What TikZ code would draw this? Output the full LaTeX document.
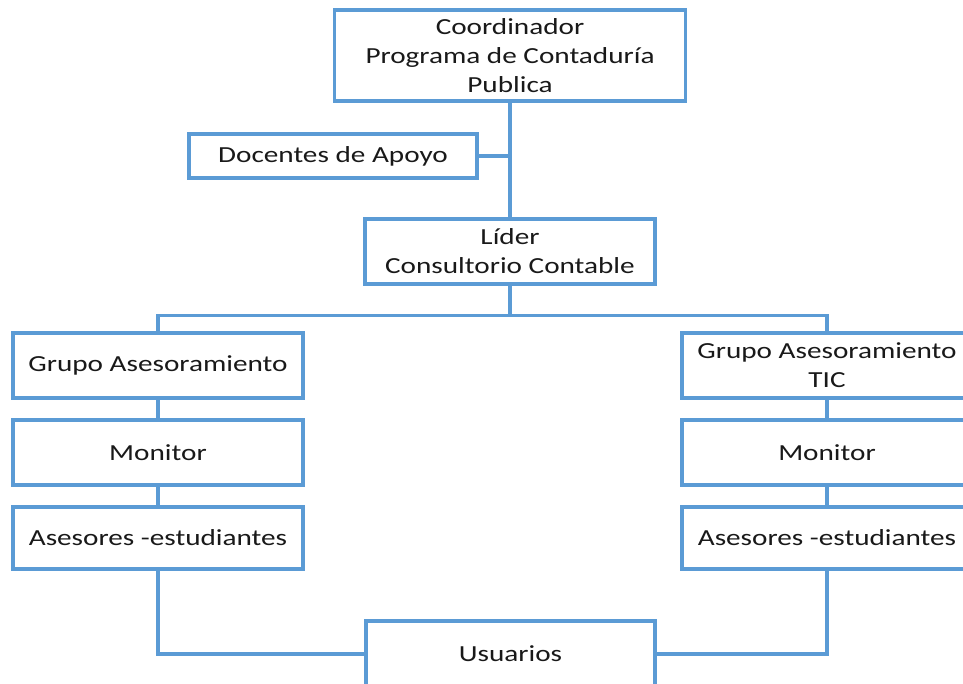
\documentclass[tikz,border=0pt]{standalone}
\usepackage{fontspec}
\setmainfont[FakeStretch=1.27]{Carlito}
\definecolor{orgBlue}{RGB}{91,155,213}
\begin{document}
\begin{tikzpicture}
[x=1pt,y=-1pt,%
  orgLine/.style={-,line width=3.2pt,color=orgBlue},%
  orgBox/.style={shape=rectangle,draw=orgBlue,line width=3.2pt,fill=white,
    inner sep=0pt,align=center,text=black!90,
    font=\fontsize{23}{29}\selectfont}]
\useasboundingbox (0,0) rectangle (963,684);
%% boxes
\foreach \nodename/\x/\y/\w/\h/\txt in {%
  coord/510/55.5/351/91/{Coordinador\\Programa de Contaduría\\Publica},
  docentes/333/156/288/44/{Docentes de Apoyo},
  lider/510/251.5/290/65/{Líder\\Consultorio Contable},
  grupoL/158/365.5/290/65/{Grupo Asesoramiento},
  monL/158/452.5/290/65/{Monitor},
  aseL/158/538/290/62/{Asesores -estudiantes},
  grupoR/827/365.5/290/65/{Grupo Asesoramiento\\TIC},
  monR/827/452.5/290/65/{Monitor},
  aseR/827/538/290/62/{Asesores -estudiantes},
  usuarios/510.5/654/289/66/{Usuarios}}
{
  \node (\nodename) at (\x,\y) [orgBox,minimum width=\w pt,minimum height=\h pt] {\txt};
}
%% lines
\draw[orgLine] (coord.south) -- (lider.north);
\draw[orgLine] (docentes.east) -- (docentes.east -| coord.south);
\draw[orgLine] (lider.south) -- ++(0,30) coordinate (split);
\draw[orgLine] (grupoL.north) |- (split) -| (grupoR.north);
\path
\foreach \startnode/\endnode in {grupoL/monL, monL/aseL, grupoR/monR, monR/aseR}
{
  (\startnode) edge[orgLine] (\endnode)
};
\draw[orgLine] (aseL.south) |- (usuarios.west);
\draw[orgLine] (aseR.south) |- (usuarios.east);
\end{tikzpicture}
\end{document}
